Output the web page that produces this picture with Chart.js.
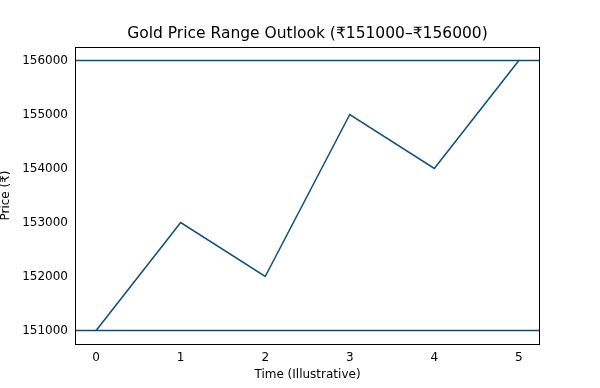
<!DOCTYPE html>
<html>
<head>
<meta charset="utf-8">
<script src="https://cdn.jsdelivr.net/npm/chart.js@4"></script>
<style>
html,body{margin:0;padding:0;background:#fff;}
#wrap{width:600px;height:388px;position:relative;}
</style>
</head>
<body>
<div id="wrap"><canvas id="c" width="600" height="388"></canvas></div>
<script>
const times = [0, 1, 2, 3, 4, 5];
const prices = [151000, 153000, 152000, 155000, 154000, 156000];
const lowerBound = 151000;
const upperBound = 156000;
const xTicks = [0, 1, 2, 3, 4, 5];
const yTicks = [151000, 152000, 153000, 154000, 155000, 156000];
const titleText = 'Gold Price Range Outlook (₹151000–₹156000)';
const xLabel = 'Time (Illustrative)';
const yLabel = 'Price (₹)';

const lineColor = '#0a4d7e';
const FONT = "'DejaVu Sans', sans-serif";

const frameAndBounds = {
  id: 'frameAndBounds',
  beforeDatasetsDraw(chart) {
    const {ctx, chartArea: a, scales: {y}} = chart;
    ctx.save();
    ctx.strokeStyle = lineColor;
    ctx.lineWidth = 1.5;
    [lowerBound, upperBound].forEach(v => {
      const py = y.getPixelForValue(v);
      ctx.beginPath();
      ctx.moveTo(a.left, py);
      ctx.lineTo(a.right, py);
      ctx.stroke();
    });
    ctx.restore();
  },
  afterDraw(chart) {
    const {ctx, chartArea: a} = chart;
    ctx.save();
    ctx.strokeStyle = '#000';
    ctx.lineWidth = 1;
    ctx.strokeRect(Math.round(a.left) + 0.5, Math.round(a.top) + 0.5,
                   Math.round(a.right - a.left) - 1, Math.round(a.bottom - a.top));
    ctx.fillStyle = '#000';
    ctx.font = "15.5px " + FONT;
    ctx.textAlign = 'center';
    ctx.textBaseline = 'middle';
    ctx.fillText(titleText, (a.left + a.right) / 2, 34);
    ctx.restore();
  }
};

new Chart(document.getElementById('c'), {
  type: 'line',
  data: {
    datasets: [{
      data: times.map((t, i) => ({x: t, y: prices[i]})),
      borderColor: lineColor,
      borderWidth: 1.5,
      pointRadius: 0,
      fill: false,
      tension: 0
    }]
  },
  options: {
    responsive: false,
    animation: false,
    devicePixelRatio: 1,
    layout: {padding: {left: 0, right: 60, top: 47, bottom: 0}},
    plugins: {
      legend: {display: false},
      tooltip: {enabled: false},
      title: {display: false}
    },
    scales: {
      x: {
        type: 'linear',
        min: -0.25,
        max: 5.25,
        afterBuildTicks(s) { s.ticks = xTicks.map(v => ({value: v})); },
        afterFit(s) { s.height = 44; },
        grid: {display: false, drawTicks: true, tickLength: 4, tickColor: '#000'},
        border: {display: false},
        ticks: {color: '#000', padding: 3, maxRotation: 0, font: {family: FONT, size: 12}},
        title: {display: true, text: xLabel, color: '#000',
                font: {family: FONT, size: 12, lineHeight: 1.2}, padding: {top: 0, bottom: 6}}
      },
      y: {
        type: 'linear',
        min: 150750,
        max: 156250,
        afterBuildTicks(s) { s.ticks = yTicks.map(v => ({value: v})); },
        afterFit(s) { s.width = 75; },
        grid: {display: false, drawTicks: true, tickLength: 4, tickColor: '#000'},
        border: {display: false},
        ticks: {color: '#000', padding: 3, font: {family: FONT, size: 12},
                callback: v => String(v)},
        title: {display: true, text: yLabel, color: '#000',
                font: {family: FONT, size: 12, lineHeight: 1.0}, padding: {top: 0, bottom: 0}}
      }
    }
  },
  plugins: [frameAndBounds]
});
</script>
</body>
</html>
